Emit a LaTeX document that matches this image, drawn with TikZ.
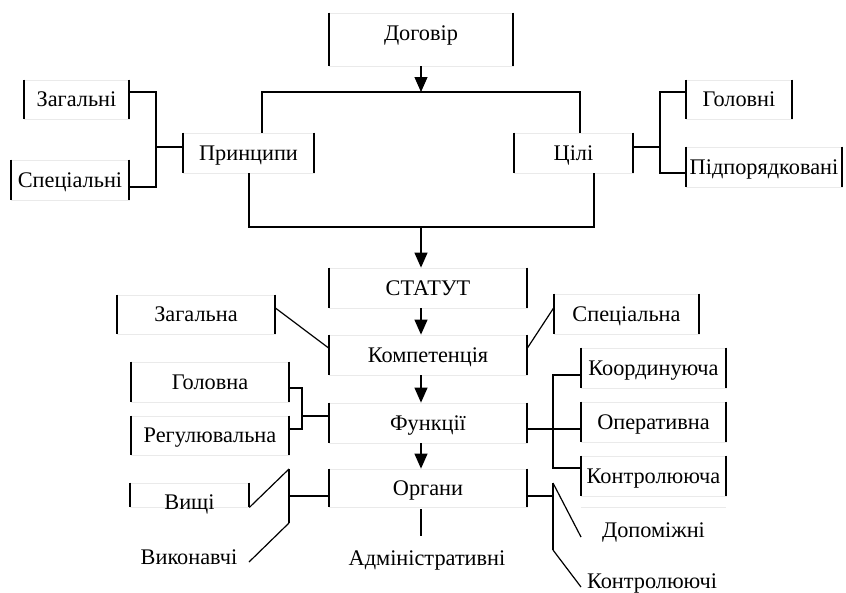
\documentclass[tikz,border=0pt]{standalone}
\usepackage{fontspec}
\setmainfont{Liberation Serif}
\usetikzlibrary{arrows.meta,calc}
\definecolor{edgegray}{HTML}{EAEAEA}
\begin{document}
\begin{tikzpicture}[x=1pt,y=-1pt,
  side/.style={draw=black, line width=2pt},
  box/.style={draw=edgegray, line width=0.8pt, inner sep=0pt,
    text height=14.8pt, text depth=0pt, font=\fontsize{22.3}{25}\selectfont,
    append after command={(\tikzlastnode.north west) edge[side] (\tikzlastnode.south west)
      (\tikzlastnode.north east) edge[side] (\tikzlastnode.south east)}},
  txt/.style={inner sep=0pt, text height=14.8pt, text depth=0pt, font=\fontsize{22.3}{25}\selectfont},
  conn/.style={draw=black, line width=1.2pt},
  arr/.style={conn, -{Triangle[length=15pt,width=13pt]}},
  faint/.style={draw=edgegray, line width=0.8pt}]
\useasboundingbox (0,0) rectangle (846,592);
% boxes
\node[box, minimum width=184pt, minimum height=53pt, text depth=12pt] (dog) at (421,39.5) {Договір};
\node[box, minimum width=131pt, minimum height=40pt] (prin) at (248.5,153) {Принципи};
\node[box, minimum width=119pt, minimum height=40pt] (cil) at (573.5,153) {Цілі};
\node[box, minimum width=105pt, minimum height=39pt] (zag) at (76.5,99.5) {Загальні};
\node[box, minimum width=118pt, minimum height=40pt] (spec) at (70,180) {Спеціальні};
\node[box, minimum width=106pt, minimum height=39pt] (gol) at (739,99.5) {Головні};
\node[box, minimum width=156pt, minimum height=40pt] (pidp) at (764,167) {Підпорядковані};
\node[box, minimum width=198pt, minimum height=40pt] (stat) at (428,288) {СТАТУТ};
\node[box, minimum width=198pt, minimum height=40pt] (komp) at (428,355) {Компетенція};
\node[box, minimum width=198pt, minimum height=40pt] (funk) at (428,423) {Функції};
\node[box, minimum width=198pt, minimum height=38pt] (org) at (428,488) {Органи};
\node[box, minimum width=158pt, minimum height=39pt] (zagna) at (196,314.5) {Загальна};
\node[box, minimum width=145pt, minimum height=40pt] (specna) at (626.5,314) {Спеціальна};
\node[box, minimum width=158pt, minimum height=40pt] (golna) at (210,382) {Головна};
\node[box, minimum width=158pt, minimum height=39pt] (reg) at (210,435.5) {Регулювальна};
\node[box, minimum width=145pt, minimum height=40pt] (koord) at (653.5,368) {Координуюча};
\node[box, minimum width=145pt, minimum height=40pt] (oper) at (653.5,422) {Оперативна};
\node[box, minimum width=145pt, minimum height=40pt] (kontr) at (653.5,476) {Контролююча};
\node[box, minimum width=119pt, minimum height=24pt] (vysh) at (189.5,495) {};
\node[txt] (vyshT) at (189.5,502.5) {Вищі};
\node[txt] (vykon) at (189,557) {Виконавчі};
\node[txt] (admin) at (427,558) {Адміністративні};
\node[txt, minimum width=145pt, minimum height=45pt] (dopom) at (653.5,530) {Допоміжні};
\node[txt] (kontrv) at (652,581) {Контролюючі};
\draw[faint] (dopom.north west) -- (dopom.north east);
% top part
\coordinate (tl) at (262,92);
\coordinate (tr) at (580,92);
\coordinate (tm) at (421,92);
\draw[arr] (dog.south) -- (tm);
\draw[conn] (prin.north -| tl) -- (tl) -- (tr) -- (cil.north -| tr);
\coordinate (bl) at (249,227);
\coordinate (br) at (594,227);
\coordinate (bm) at (421,227);
\draw[conn] (prin.south -| bl) -- (bl) -- (br) -- (cil.south -| br);
\draw[arr] (bm) -- (stat.north -| bm);
\draw[arr] (stat.south -| bm) -- (komp.north -| bm);
\draw[arr] (komp.south -| bm) -- (funk.north -| bm);
\draw[arr] (funk.south -| bm) -- (org.north -| bm);
% principles bracket
\coordinate (pl1) at (156,92);
\coordinate (pl2) at (156,187);
\coordinate (pl3) at (156,147);
\draw[conn] (zag.east |- pl1) -- (pl1) -- (pl2) -- (spec.east |- pl2);
\draw[conn] (pl3) -- (prin.west |- pl3);
% goals bracket
\coordinate (gr1) at (660,92);
\coordinate (gr2) at (660,173);
\coordinate (gr3) at (660,147);
\draw[conn] (gol.west |- gr1) -- (gr1) -- (gr2) -- (pidp.west |- gr2);
\draw[conn] (cil.east |- gr3) -- (gr3);
% competence
\draw[conn] ([yshift=6.5pt]zagna.east) -- ([yshift=7pt]komp.west);
\draw[conn] ([yshift=7pt]komp.east) -- ([yshift=6pt]specna.west);
% functions
\coordinate (fl1) at (302,388);
\coordinate (fl2) at (302,429);
\coordinate (fl3) at (302,416);
\draw[conn] (golna.east |- fl1) -- (fl1) -- (fl2) -- (reg.east |- fl2);
\draw[conn] (fl3) -- (funk.west |- fl3);
\coordinate (fr1) at (553,375);
\coordinate (fr2) at (553,468);
\coordinate (fr3) at (553,429);
\draw[conn] (funk.east |- fr3) -- (oper.west |- fr3);
\draw[conn] (koord.west |- fr1) -- (fr1) -- (fr2) -- (kontr.west |- fr2);
% organs
\coordinate (ol1) at (289,469);
\coordinate (ol2) at (289,523);
\coordinate (ol3) at (289,496);
\coordinate (ol4) at (249,562);
\draw[conn] (org.west |- ol3) -- (ol3);
\draw[conn] (ol1) -- (ol2);
\draw[conn] (ol1) -- (vysh.south east);
\draw[conn] (ol2) -- (ol4);
\coordinate (or1) at (553,483);
\coordinate (or2) at (553,550);
\coordinate (or3) at (553,496);
\coordinate (or4) at (581,537);
\coordinate (or5) at (581,587);
\draw[conn] (org.east |- or3) -- (or3);
\draw[conn] (or1) -- (or2);
\draw[conn] (or1) -- (or4);
\draw[conn] (or2) -- (or5);
\coordinate (ad) at (421,536);
\draw[conn] ([yshift=-2pt]org.south -| bm) -- (ad);
\end{tikzpicture}
\end{document}
